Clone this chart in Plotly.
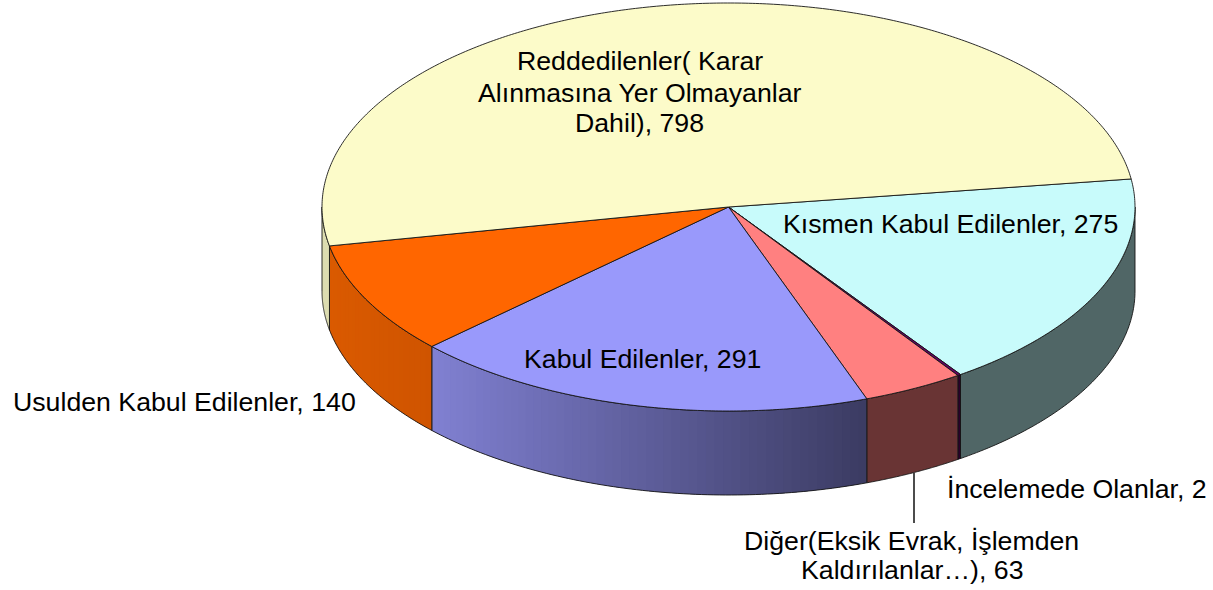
import numpy as np
import plotly.graph_objects as go

# Data, in drawing order (clockwise from the slice boundary at the right)
categories = ["Kısmen Kabul Edilenler", "İncelemede Olanlar",
              "Diğer(Eksik Evrak, İşlemden Kaldırılanlar…)", "Kabul Edilenler",
              "Usulden Kabul Edilenler", "Reddedilenler( Karar Alınmasına Yer Olmayanlar Dahil)"]
values = [275, 2, 63, 291, 140, 798]

top_colors = ["#C8FBFB", "#660066", "#FF8080", "#9999FB", "#FF6600", "#FCFBC9"]
side_left = ["#506666", "#2A002A", "#693434", "#8080D2", "#DA5A00", "#DCDCB0"]
side_right = ["#506666", "#2A002A", "#693434", "#3B3B62", "#CF5400", "#DCDCB0"]

label_lines = ["Kısmen Kabul Edilenler, 275", "İncelemede Olanlar, 2",
               "Diğer(Eksik Evrak, İşlemden", "Kaldırılanlar…), 63", "Kabul Edilenler, 291",
               "Usulden Kabul Edilenler, 140",
               "Reddedilenler( Karar", "Alınmasına Yer Olmayanlar", "Dahil), 798"]
label_x = [950.5, 1076.5, 911.5, 912, 642, 184, 639.5, 639.5, 639.5]
label_y = [224, 488.5, 540.5, 569.5, 359, 402, 60.5, 92.5, 122.5]

# Pie geometry
CX, CY, RX, RY, DEPTH = 728.5, 207.0, 406.5, 204.0, 84.0
START_DEG = -7.9
INK = "#151515"
FONT = "Liberation Sans, Arial, sans-serif"
FONT_SIZE = 26.7


def px(t):
    return CX + RX * np.cos(np.radians(t))


def py(t):
    return CY + RY * np.sin(np.radians(t))


def hex_rgb(c):
    return np.array([int(c[i:i + 2], 16) for i in (1, 3, 5)], dtype=float)


fig = go.Figure()


def poly(xs, ys, fill=None, line=INK, width=0.9):
    fig.add_trace(go.Scatter(
        x=xs, y=ys, mode="lines", hoverinfo="skip", showlegend=False,
        fill="toself" if fill else "none", fillcolor=fill,
        line=dict(color=line, width=width, simplify=False)))


edges = START_DEG + np.concatenate([[0], np.cumsum(values)]) / sum(values) * 360

# Sides: only the part of the rim facing the viewer, shaded left to right
for i in range(len(values)):
    a, b = max(edges[i], 0.0), min(edges[i + 1], 180.0)
    if b <= a:
        continue
    n = 1 if side_left[i] == side_right[i] else max(1, int((b - a) / 1.2))
    cuts = np.linspace(a, b, n + 1)
    xl, xr = px(b), px(a)
    for s in range(n):
        # each strip reaches over the next one, which paints over it, so no seams show
        tt = np.linspace(cuts[s], cuts[min(s + 2, n)], 60 if n == 1 else 5)
        mid = (px(cuts[s]) + px(cuts[s + 1])) / 2
        f = (mid - xl) / (xr - xl)
        rgb = (1 - f) * hex_rgb(side_left[i]) + f * hex_rgb(side_right[i])
        col = "rgb(%d,%d,%d)" % tuple(rgb.round())
        xs = np.concatenate([px(tt), px(tt[::-1])])
        ys = np.concatenate([py(tt), py(tt[::-1]) + DEPTH])
        poly(xs, ys, fill=col, line=col, width=0)
    tt = np.linspace(a, b, 80)
    poly(np.concatenate([px(tt), px(tt[::-1]), px(tt[:1])]),
         np.concatenate([py(tt), py(tt[::-1]) + DEPTH, py(tt[:1])]))

# Top face
for i in range(len(values)):
    tt = np.linspace(edges[i], edges[i + 1], max(3, int((edges[i + 1] - edges[i]) * 2)))
    poly(np.concatenate([[CX], px(tt), [CX]]), np.concatenate([[CY], py(tt), [CY]]),
         fill=top_colors[i])

# Leader line for the "Diğer" label
fig.add_shape(type="line", x0=914, x1=914, y0=473, y1=523,
              line=dict(color="#111111", width=1.5))

for text, x, y in zip(label_lines, label_x, label_y):
    fig.add_annotation(x=x, y=y, text=text, showarrow=False, xanchor="center", yanchor="middle",
                       align="center", font=dict(family=FONT, size=FONT_SIZE, color="#000000"))

fig.update_layout(
    width=1213, height=590, margin=dict(l=0, r=0, t=0, b=0),
    paper_bgcolor="white", plot_bgcolor="white", showlegend=False,
    xaxis=dict(range=[0, 1213], visible=False, fixedrange=True),
    yaxis=dict(range=[590, 0], visible=False, fixedrange=True),
)
fig.write_html("out.html", config={"displayModeBar": False},
               post_script="document.body.style.margin='0';document.body.style.overflow='hidden';")
